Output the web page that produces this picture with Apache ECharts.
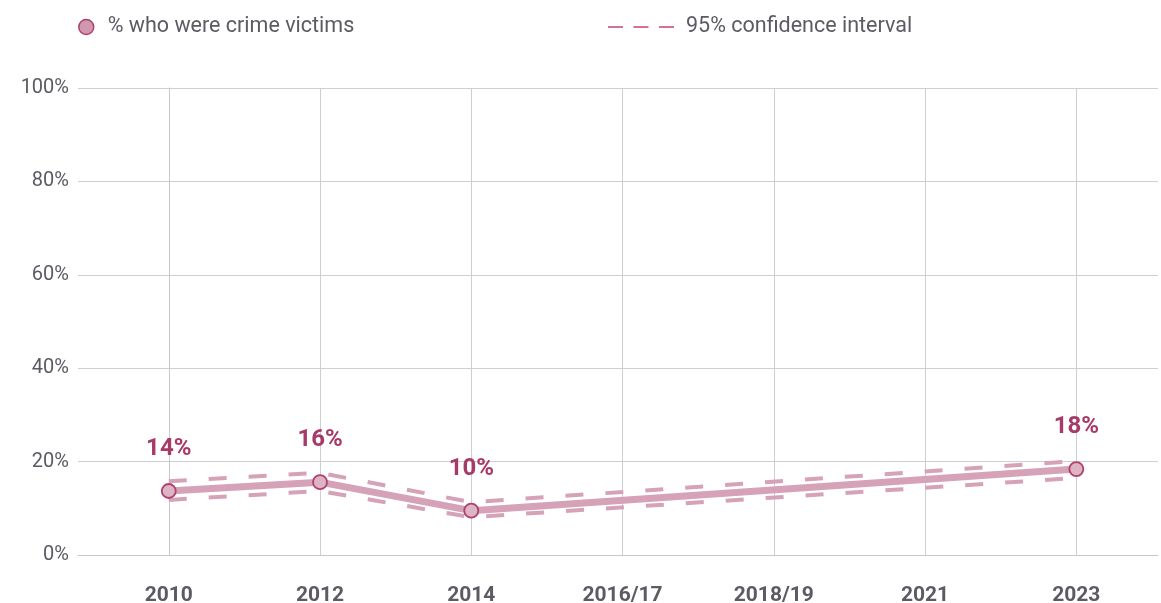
<!DOCTYPE html>
<html>
<head>
<meta charset="utf-8">
<script src="https://cdn.jsdelivr.net/npm/echarts@6/dist/echarts.min.js"></script>
<style>
  html, body { margin: 0; padding: 0; background: #fff; }
  #chart { width: 1161px; height: 603px; }
</style>
</head>
<body>
<div id="chart"></div>
<script>
// survey waves, value per wave (null = no survey point)
var categories = ['2010', '2012', '2014', '2016/17', '2018/19', '2021', '2023']
var victims = [13.7, 15.6, 9.5, null, null, null, 18.4]
var ciUpper = [15.8, 17.6, 11.3, null, null, null, 20.1]
var ciLower = [11.8, 13.7, 8.1, null, null, null, 16.5]

var lineColor = '#d5a2b8'
var textColor = '#5b5b63'

function pairs (arr) {
  var out = []
  arr.forEach(function (v, i) {
    if (v !== null) out.push([i, v])
  })
  return out
}

var catIndex = categories.map(function (c, i) { return i })

var chart = echarts.init(document.getElementById('chart'))
var option = {
  animation: false,
  textStyle: { fontFamily: 'Roboto' },
  legend: [
    {
      left: 73,
      top: 11,
      icon: 'circle',
      itemWidth: 15,
      itemHeight: 15,
      textStyle: { fontSize: 21.5, color: textColor, fontFamily: 'Roboto', padding: [0, 0, 0, 9] },
      data: [{
        name: '% who were crime victims',
        itemStyle: { color: '#d197b0', borderColor: '#b0406e', borderWidth: 1.5 }
      }]
    },
    {
      left: 603,
      top: 11,
      itemWidth: 66,
      itemHeight: 15,
      textStyle: { fontSize: 21.5, color: textColor, fontFamily: 'Roboto', padding: [0, 0, 0, 7] },
      data: [{
        name: '95% confidence interval',
        icon: 'path://M0,0 L15,0 L15,1.6 L0,1.6 Z M25.5,0 L40.5,0 L40.5,1.6 L25.5,1.6 Z M51,0 L66,0 L66,1.6 L51,1.6 Z',
        itemStyle: { color: '#c9407a' }
      }]
    }
  ],
  grid: {
    left: 78,
    right: 3,
    top: 88,
    bottom: 48,
    outerBoundsMode: 'none'
  },
  xAxis: {
    type: 'value',
    min: -0.6,
    max: 6.54,
    axisLine: { show: true, lineStyle: { color: '#c8c8c8', width: 1 } },
    axisTick: { show: false, customValues: catIndex },
    axisLabel: {
      customValues: catIndex,
      formatter: function (v) { return categories[Math.round(v)] },
      fontSize: 21,
      fontWeight: 'bold',
      color: textColor,
      margin: 30
    },
    splitLine: { show: true, lineStyle: { color: '#cfcfcf', width: 1 } }
  },
  yAxis: {
    type: 'value',
    min: 0,
    max: 100,
    interval: 20,
    axisLine: { show: true, lineStyle: { color: '#c8c8c8' } },
    axisTick: { show: false },
    axisLabel: {
      formatter: '{value}%',
      fontSize: 20,
      color: textColor,
      margin: 9
    },
    splitLine: { show: true, lineStyle: { color: '#cfcfcf', width: 1 } }
  },
  series: [
    {
      name: '95% confidence interval',
      type: 'line',
      data: pairs(ciUpper),
      symbol: 'none',
      lineStyle: { color: lineColor, width: 4, type: [18, 22] },
      itemStyle: { color: lineColor },
      z: 2
    },
    {
      name: '95% confidence interval',
      type: 'line',
      data: pairs(ciLower),
      symbol: 'none',
      lineStyle: { color: lineColor, width: 4, type: [18, 22] },
      itemStyle: { color: lineColor },
      z: 2
    },
    {
      name: '% who were crime victims',
      type: 'line',
      data: pairs(victims),
      symbol: 'circle',
      symbolSize: 14,
      lineStyle: { color: lineColor, width: 7 },
      itemStyle: { color: '#dcb4c4', borderColor: '#b0406e', borderWidth: 1.8 },
      label: {
        show: true,
        position: 'top',
        distance: 22,
        formatter: function (p) { return Math.round(p.value[1]) + '%' },
        fontSize: 24,
        fontWeight: 'bold',
        color: '#a83a6a'
      },
      z: 3
    }
  ]
}
chart.setOption(option)
</script>
</body>
</html>
